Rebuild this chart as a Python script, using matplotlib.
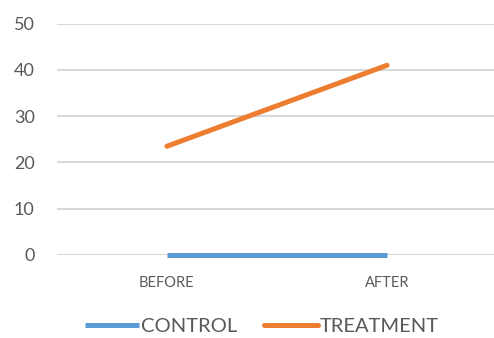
import matplotlib.pyplot as plt

# chart data
categories = ["BEFORE", "AFTER"]
control = [0, 0]
treatment = [23.5, 41]
y_ticks = [0, 10, 20, 30, 40, 50]

BLUE = "#5B9BD5"
ORANGE = "#ED7D31"
GRID = "#D9D9D9"
TEXT = "#595959"

plt.rcParams['font.family'] = ['Lato', 'DejaVu Sans']

fig = plt.figure(figsize=(4.94, 3.38), dpi=100)
ax = fig.add_axes([0.115, 0.2456, 0.885, 0.6844])

x = list(range(len(categories)))
ax.plot(x, control, color=BLUE, lw=3.6, solid_capstyle="butt", clip_on=False, label="CONTROL", zorder=3)
ax.plot(x, treatment, color=ORANGE, lw=3.6, solid_capstyle="round", clip_on=False, label="TREATMENT", zorder=3)

ax.set_xlim(-0.5, 1.486)
ax.set_ylim(0, 50)
ax.set_yticks(y_ticks)
ax.set_xticks(x)
ax.set_xticklabels(categories)
ax.grid(axis="y", color=GRID, lw=1.5)
ax.set_axisbelow(True)
for s in ax.spines.values():
    s.set_visible(False)
ax.tick_params(axis="y", length=0, pad=16, labelsize=13, labelcolor=TEXT)
ax.tick_params(axis="x", length=0, pad=15, labelsize=10.5, labelcolor=TEXT)

fig.legend(loc="lower center", bbox_to_anchor=(0.53, -0.045), ncol=2, frameon=False,
           fontsize=14.5, labelcolor=TEXT, handlelength=2.7, handletextpad=0.1,
           columnspacing=1.3)

fig.savefig("out.png", dpi=100)
